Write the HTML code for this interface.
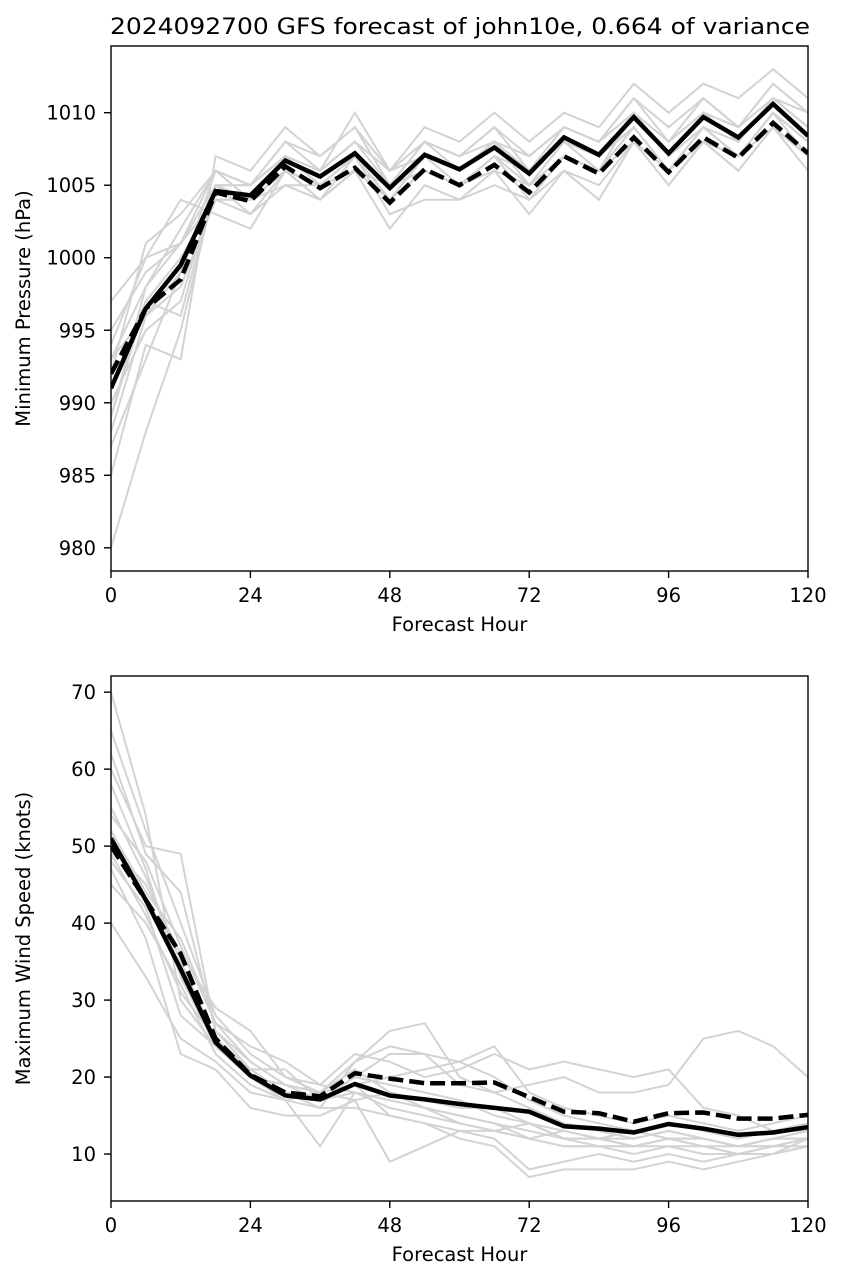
<!DOCTYPE html>
<html><head><meta charset="utf-8"><style>
body{margin:0;background:#fff;}
svg text{font-family:"DejaVu Sans","Liberation Sans",sans-serif;fill:#000;}
</style></head><body>
<svg id="chart" width="843" height="1279" xmlns="http://www.w3.org/2000/svg">
<text x="460" y="34" font-size="22.5" text-anchor="middle" textLength="700" lengthAdjust="spacingAndGlyphs">2024092700 GFS forecast of john10e, 0.664 of variance</text>
</svg>
<script>
const hours=[0,6,12,18,24,30,36,42,48,54,60,66,72,78,84,90,96,102,108,114,120];
const xTicks=[0,24,48,72,96,120];
const presTicks=[980,985,990,995,1000,1005,1010];
const windTicks=[10,20,30,40,50,60,70];
const presMean=[991,996.5,999.5,1004.6,1004.3,1006.7,1005.6,1007.2,1004.8,1007.1,1006.1,1007.6,1005.8,1008.3,1007.1,1009.7,1007.2,1009.7,1008.3,1010.6,1008.4];
const presDet=[992,996.5,998.5,1004.5,1003.9,1006.3,1004.8,1006.2,1003.8,1006.1,1005.0,1006.4,1004.5,1007.0,1005.8,1008.3,1005.9,1008.3,1006.9,1009.3,1007.2];
const presEns=[
[980,988,995,1005,1004,1006,1005,1007,1004,1007,1006,1008,1005,1008,1007,1010,1007,1010,1008,1011,1009],
[985,994,993,1007,1006,1009,1007,1009,1005,1008,1007,1009,1006,1009,1008,1011,1008,1011,1009,1012,1010],
[989,997,1000,1004,1003,1005,1004,1006,1002,1005,1004,1006,1003,1006,1004,1008,1005,1008,1006,1009,1007],
[992,1001,1003,1006,1005,1007,1006,1008,1006,1009,1008,1010,1008,1010,1009,1012,1010,1012,1011,1013,1011],
[995,999,1001,1005,1005,1008,1006,1008,1006,1007,1006,1008,1007,1009,1008,1011,1009,1011,1009,1012,1010],
[997,1000,1004,1003,1002,1006,1005,1006,1005,1006,1005,1007,1005,1007,1006,1009,1006,1009,1007,1010,1008],
[988,996,998,1004,1004,1006,1004,1007,1004,1007,1005,1007,1006,1008,1006,1010,1007,1009,1008,1011,1009],
[993,998,1002,1006,1005,1007,1005,1007,1003,1004,1004,1005,1004,1006,1005,1008,1006,1008,1007,1009,1007],
[990,995,997,1005,1005,1007,1006,1010,1006,1008,1006,1008,1006,1008,1007,1009,1006,1009,1007,1010,1008],
[994,1000,1001,1004,1004,1005,1005,1006,1005,1006,1005,1006,1005,1007,1006,1008,1005,1008,1006,1009,1006],
[987,993,999,1006,1004,1007,1006,1008,1005,1008,1007,1009,1007,1009,1008,1010,1008,1010,1009,1011,1010],
[991,997,996,1005,1003,1006,1005,1006,1004,1006,1005,1007,1004,1007,1006,1009,1006,1009,1007,1010,1008],
[989,998,1001,1006,1005,1008,1007,1009,1006,1008,1007,1008,1006,1009,1008,1010,1007,1010,1008,1011,1009],
[993,996,999,1005,1004,1006,1004,1006,1004,1006,1005,1007,1005,1007,1006,1009,1006,1008,1007,1010,1007]];
const windMean=[51,43,34,24.5,20.2,17.6,17.1,19.1,17.6,17.1,16.5,16,15.5,13.6,13.3,12.8,13.9,13.3,12.5,12.8,13.5];
const windDet=[50,43,36,25,20.3,18,17.5,20.5,19.8,19.2,19.2,19.3,17.4,15.5,15.3,14.2,15.3,15.4,14.6,14.6,15.1];
const windEns=[
[70,54,30,24,20,18,16,22,26,27,20,18,19,20,18,18,19,25,26,24,20],
[60,50,49,26,22,19,18,21,18,16,14,13,12,13,12,11,12,12,11,12,12],
[45,40,32,23,19,17,11,18,17,16,15,14,12,11,11,10,11,10,10,11,11],
[55,46,35,25,21,18,17,20,23,23,22,24,18,16,15,14,15,14,13,14,15],
[48,42,28,24,20,19,18,17,9,11,13,12,8,9,10,9,10,9,10,10,12],
[40,33,25,22,18,17,16,16,15,14,12,11,7,8,8,8,9,8,9,10,11],
[65,52,40,28,23,20,19,23,22,20,21,23,21,22,21,20,21,16,15,13,14],
[52,44,38,27,24,22,19,18,16,15,14,13,14,12,12,13,12,12,11,11,12],
[58,47,33,24,20,17,18,19,20,21,22,20,17,15,14,13,14,13,12,13,13],
[47,38,23,21,16,15,15,17,18,17,16,16,14,13,12,11,12,11,10,10,11],
[50,45,36,29,26,20,18,22,24,23,19,18,16,14,13,12,13,12,11,12,12],
[62,49,44,26,21,21,17,19,15,14,13,13,12,11,11,11,11,11,10,11,12],
[54,48,37,27,22,19,17,20,19,18,17,15,14,12,12,12,13,12,11,12,13],
[49,41,31,25,20,18,17,18,17,16,15,14,13,12,11,11,12,11,11,11,12]];
const NS="http://www.w3.org/2000/svg";
const svg=document.getElementById('chart');
function mk(t,a){const e=document.createElementNS(NS,t);for(const k in a)e.setAttribute(k,a[k]);return e;}
function panel(top,ymin,ymax,yTicks,ylab,ens,mean,det,key){
 const L=111,R=808,T=top,B=top+525;
 const xs=h=>L+(h-0)/120*(R-L);
 const ys=v=>B-(v-ymin)/(ymax-ymin)*(B-T);
 const g=mk('g',{});
 
 
 svg.appendChild(g);
 const clip=mk('clipPath',{id:'c'+key});clip.appendChild(mk('rect',{x:L,y:T,width:R-L,height:B-T}));g.appendChild(clip);
 const lines=mk('g',{'clip-path':'url(#c'+key+')'});g.appendChild(lines);
 const pts=a=>a.map((v,i)=>xs(hours[i]).toFixed(1)+','+ys(v).toFixed(1)).join(' ');
 ens.forEach((m,i)=>{const p=mk('polyline',{points:pts(m),fill:'none',stroke:'#d3d3d3','stroke-width':2});
  
  
  lines.appendChild(p);});
 const pd=mk('polyline',{points:pts(det),fill:'none',stroke:'#000','stroke-width':4.5,'stroke-dasharray':'15,6'});
 
 
 lines.appendChild(pd);
 const pm=mk('polyline',{points:pts(mean),fill:'none',stroke:'#000','stroke-width':4.5});
 
 
 lines.appendChild(pm);
 g.appendChild(mk('rect',{x:L,y:T,width:R-L,height:B-T,fill:'none',stroke:'#000','stroke-width':1.4}));
 xTicks.forEach(t=>{const x=xs(t);g.appendChild(mk('line',{x1:x,x2:x,y1:B,y2:B+7,stroke:'#000','stroke-width':1.4}));
  const tx=mk('text',{x:x,y:B+31,'font-size':19.5,'text-anchor':'middle'});tx.textContent=t;
  
  
  g.appendChild(tx);});
 yTicks.forEach(t=>{const y=ys(t);g.appendChild(mk('line',{x1:L-7,x2:L,y1:y,y2:y,stroke:'#000','stroke-width':1.4}));
  const tx=mk('text',{x:L-15,y:y+7,'font-size':19.5,'text-anchor':'end'});tx.textContent=t;
  
  
  g.appendChild(tx);});
 const xl=mk('text',{x:(L+R)/2,y:B+60,'font-size':19.5,'text-anchor':'middle'});xl.textContent='Forecast Hour';
 
 
 g.appendChild(xl);
 const cy=(T+B)/2;
 const yl=mk('text',{x:30,y:cy,'font-size':19.5,'text-anchor':'middle',transform:'rotate(-90 30 '+cy+')'});yl.textContent=ylab;
 
 
 g.appendChild(yl);
}
panel(46,978.4,1014.6,presTicks,'Minimum Pressure (hPa)',presEns,presMean,presDet,'pressure');
panel(676,3.9,72.1,windTicks,'Maximum Wind Speed (knots)',windEns,windMean,windDet,'wind');
</script>
</body></html>
